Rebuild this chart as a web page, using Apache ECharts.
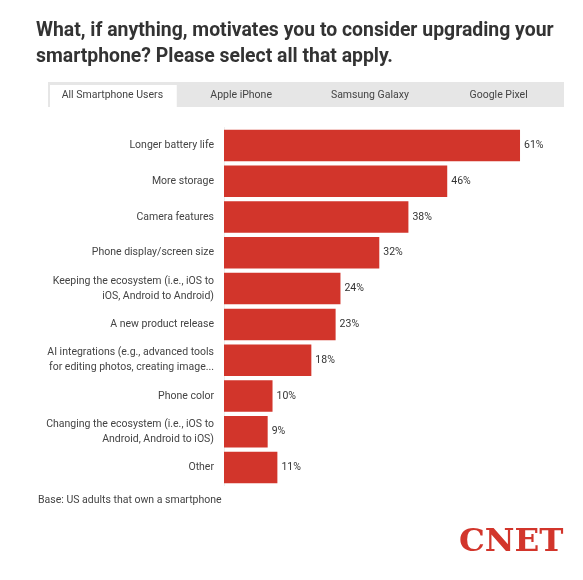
<!DOCTYPE html>
<html>
<head>
<meta charset="utf-8">
<script src="https://cdn.jsdelivr.net/npm/echarts@6/dist/echarts.min.js"></script>
<style>
    html, body { margin: 0; padding: 0; background: #fff; }
    #chart { width: 583px; height: 580px; }
</style>
</head>
<body>
<div id="chart"></div>
<script>
(function () {
    'use strict';

    var categories = [
        'Longer battery life',
        'More storage',
        'Camera features',
        'Phone display/screen size',
        'Keeping the ecosystem (i.e., iOS to\niOS, Android to Android)',
        'A new product release',
        'AI integrations (e.g., advanced tools\nfor editing photos, creating image...',
        'Phone color',
        'Changing the ecosystem (i.e., iOS to\nAndroid, Android to iOS)',
        'Other'
    ];
    var values = [61, 46, 38, 32, 24, 23, 18, 10, 9, 11];
    var tabs = ['All Smartphone Users', 'Apple iPhone', 'Samsung Galaxy', 'Google Pixel'];

    var font = 'Roboto, "Noto Sans", sans-serif';
    var tabLeft = 48, tabTop = 82, tabW = 128.75, tabH = 25;

    var graphics = [
        {
            type: 'text', left: 36, top: 18,
            style: {
                text: 'What, if anything, motivates you to consider upgrading your\nsmartphone? Please select all that apply.',
                font: 'bold 19.4px ' + font, fill: '#333', lineHeight: 26
            }
        },
        {
            type: 'rect', shape: { x: tabLeft, y: tabTop, width: tabW * 4 + 1, height: tabH },
            style: { fill: '#e6e6e6' }
        },
        {
            type: 'rect', shape: { x: tabLeft + 2, y: tabTop + 3, width: tabW - 2, height: tabH - 1 },
            style: { fill: '#fff' }
        },
        {
            type: 'text', left: 38, top: 495,
            style: { text: 'Base: US adults that own a smartphone', font: '10.5px ' + font, fill: '#444' }
        },
        {
            type: 'text', left: 459, top: 526,
            style: { text: 'CNET', font: 'bold 32.5px "DejaVu Serif", serif', fill: '#d2352b' }
        }
    ];
    for (var t = 0; t < tabs.length; t++) {
        graphics.push({
            type: 'text',
            x: tabLeft + tabW * t + tabW / 2, y: tabTop + tabH / 2 + 1,
            style: {
                text: tabs[t], font: '10.5px ' + font, fill: '#444',
                align: 'center', verticalAlign: 'middle'
            }
        });
    }

    var chart = echarts.init(document.getElementById('chart'));
    chart.setOption({
        animation: false,
        graphic: graphics,
        grid: { left: 224, top: 127.5, width: 339.7, height: 358 },
        xAxis: {
            type: 'value', min: 0, max: 70,
            show: false
        },
        yAxis: {
            type: 'category', inverse: true, data: categories,
            axisLine: { show: true, lineStyle: { color: '#eee', width: 1 } },
            axisTick: { show: false },
            axisLabel: {
                margin: 10, fontSize: 10.5, color: '#444', fontFamily: font,
                align: 'right', lineHeight: 15
            }
        },
        series: [{
            type: 'bar', data: values, barCategoryGap: '12%',
            itemStyle: { color: '#d2352b' },
            label: {
                show: true, position: 'right', distance: 4,
                formatter: '{c}%', fontSize: 10.5, color: '#333', fontFamily: font
            }
        }]
    });
}());
</script>
</body>
</html>
